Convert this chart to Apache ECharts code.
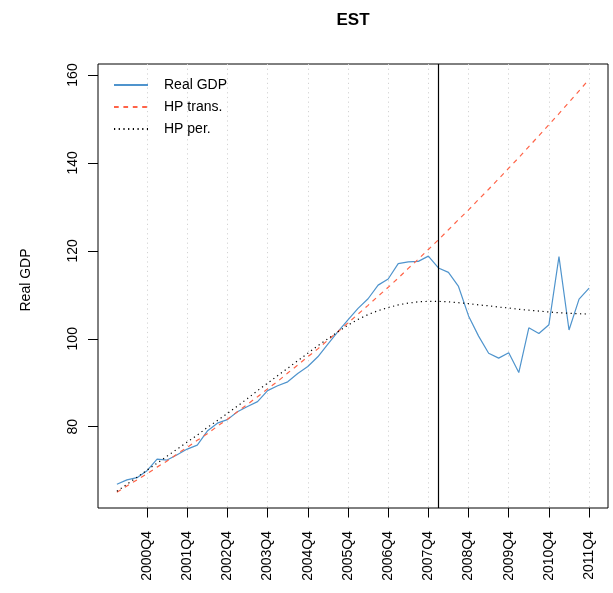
<!DOCTYPE html>
<html><head><meta charset="utf-8">
<script src="https://cdn.jsdelivr.net/npm/echarts@6/dist/echarts.min.js"></script>
<style>html,body{margin:0;padding:0;background:#fff}#c{width:613px;height:593px}</style>
</head><body><div id="c"></div>
<script>
const quarters = [
  '2000Q1','2000Q2','2000Q3','2000Q4','2001Q1','2001Q2','2001Q3','2001Q4',
  '2002Q1','2002Q2','2002Q3','2002Q4','2003Q1','2003Q2','2003Q3','2003Q4',
  '2004Q1','2004Q2','2004Q3','2004Q4','2005Q1','2005Q2','2005Q3','2005Q4',
  '2006Q1','2006Q2','2006Q3','2006Q4','2007Q1','2007Q2','2007Q3','2007Q4',
  '2008Q1','2008Q2','2008Q3','2008Q4','2009Q1','2009Q2','2009Q3','2009Q4',
  '2010Q1','2010Q2','2010Q3','2010Q4','2011Q1','2011Q2','2011Q3','2011Q4'
];
const realGDP = [
  66.9, 67.9, 68.4, 70.0, 72.6, 72.4, 73.6, 74.9,
  75.8, 79.0, 80.8, 81.6, 83.4, 84.6, 85.7, 88.2,
  89.3, 90.2, 92.1, 93.7, 95.9, 98.8, 101.6, 104.3,
  106.9, 109.1, 112.2, 113.6, 117.1, 117.5, 117.6, 118.8,
  116.1, 115.1, 111.9, 105.2, 100.6, 96.7, 95.6, 96.8,
  92.3, 102.5, 101.2, 103.2, 118.7, 102.0, 109.0, 111.5
];
const hpTrans = [
  65.1, 66.5, 67.9, 69.3, 70.8, 72.2, 73.8, 75.3,
  76.9, 78.4, 80.1, 81.7, 83.4, 85.1, 86.8, 88.6,
  90.3, 92.2, 94.0, 95.9, 97.7, 99.7, 101.6, 103.6,
  105.6, 107.6, 109.7, 111.7, 113.8, 116.0, 118.1, 120.3,
  122.5, 124.8, 127.1, 129.3, 131.7, 134.0, 136.4, 138.8,
  141.2, 143.7, 146.2, 148.7, 151.2, 153.8, 156.4, 159.0
];
const hpPer = [
  65.3, 66.9, 68.5, 70.1, 71.7, 73.3, 74.9, 76.5,
  78.1, 79.8, 81.4, 83.0, 84.7, 86.4, 88.2, 89.9,
  91.6, 93.3, 95.0, 96.7, 98.4, 100.0, 101.6, 103.1,
  104.4, 105.5, 106.4, 107.1, 107.7, 108.1, 108.4, 108.5,
  108.5, 108.4, 108.2, 108.0, 107.7, 107.5, 107.2, 107.0,
  106.7, 106.5, 106.3, 106.1, 105.9, 105.8, 105.7, 105.6
];
const tickLabels = ['2000Q4','2001Q4','2002Q4','2003Q4','2004Q4','2005Q4',
                    '2006Q4','2007Q4','2008Q4','2009Q4','2010Q4','2011Q4'];
const yTicks = [80, 100, 120, 140, 160];
const breakQuarter = '2008Q1';

const FONT = "'Liberation Sans', Arial, Helvetica, sans-serif";
const tickIdx = tickLabels.map(q => quarters.indexOf(q));
const n = quarters.length;
const pad = (n - 1) * 0.04;
const toXY = arr => arr.map((v, i) => [i, v]);

const chart = echarts.init(document.getElementById('c'), null, {renderer: 'canvas'});
chart.setOption({
  animation: false,
  backgroundColor: '#ffffff',
  textStyle: {fontFamily: FONT},
  title: {
    text: 'EST', left: 353, top: 12, textAlign: 'center', padding: 0,
    textStyle: {fontFamily: FONT, fontSize: 17, fontWeight: 'bold', color: '#000'}
  },
  grid: {left: 98, right: 5, top: 64, bottom: 85, show: true, borderColor: '#000', borderWidth: 1, backgroundColor: 'transparent'},
  legend: {
    orient: 'vertical', left: 113, top: 78, padding: 0,
    itemWidth: 34, itemHeight: 14, itemGap: 8,
    itemStyle: {opacity: 0, borderWidth: 0},
    textStyle: {fontFamily: FONT, fontSize: 14, color: '#000', padding: [0, 0, 0, 11]},
    data: ['Real GDP', 'HP trans.', 'HP per.']
  },
  xAxis: {
    type: 'value', min: -pad, max: n - 1 + pad,
    axisLine: {show: false, onZero: false},
    axisTick: {show: true, length: 9.5, customValues: tickIdx, lineStyle: {color: '#000', width: 1}},
    axisLabel: {
      show: true, rotate: 90, margin: 23, customValues: tickIdx,
      fontFamily: FONT, fontSize: 14, color: '#000',
      formatter: v => tickLabels[tickIdx.indexOf(Math.round(v))] || ''
    },
    splitLine: {show: true, lineStyle: {color: '#d3d3d3', width: 1, type: [1.2, 3.5]}}
  },
  yAxis: {
    type: 'value', min: 61.5, max: 162.5,
    name: 'Real GDP', nameLocation: 'middle', nameGap: 65,
    nameTextStyle: {fontFamily: FONT, fontSize: 14, color: '#000', padding: [0, 0, 0, 12]},
    axisLine: {show: false, onZero: false},
    axisTick: {show: true, length: 10, customValues: yTicks, lineStyle: {color: '#000', width: 1}},
    axisLabel: {
      show: true, rotate: 90, margin: 18, customValues: yTicks,
      fontFamily: FONT, fontSize: 14, color: '#000'
    },
    splitLine: {show: false}
  },
  series: [
    {
      name: 'Real GDP', type: 'line', data: toXY(realGDP),
      symbol: 'none', showSymbol: false,
      lineStyle: {color: '#4F94CD', width: 1.2},
      itemStyle: {color: '#4F94CD'},
      z: 3,
      markLine: {
        silent: true, symbol: ['none', 'none'], label: {show: false},
        lineStyle: {color: '#000', width: 1.2, type: 'solid'},
        data: [{xAxis: quarters.indexOf(breakQuarter)}]
      }
    },
    {
      name: 'HP trans.', type: 'line', data: toXY(hpTrans),
      symbol: 'none', showSymbol: false,
      lineStyle: {color: '#FF6347', width: 1.2, type: [4.7, 4.7]},
      itemStyle: {color: '#FF6347'},
      z: 4
    },
    {
      name: 'HP per.', type: 'line', data: toXY(hpPer),
      symbol: 'none', showSymbol: false,
      lineStyle: {color: '#000', width: 1.2, type: [1.2, 3.5]},
      itemStyle: {color: '#000'},
      z: 5
    }
  ]
});
</script>
</body></html>
